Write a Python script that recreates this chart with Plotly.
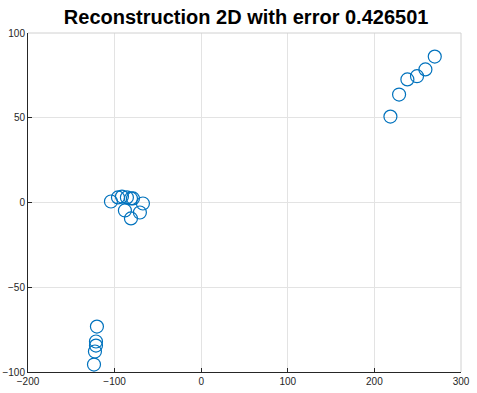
import plotly.graph_objects as go

# Reconstructed 2D points
x_vals = [-104.2, -96.1, -91.5, -85.8, -81.1, -78.8, -67.3, -70.8, -88.1, -81.1,
          -120.4, -121.5, -121.5, -122.7, -123.8,
          269.7, 258.9, 249.2, 238.1, 228.5, 218.5]
y_vals = [0.6, 3.0, 3.5, 3.0, 2.4, 2.4, -0.6, -5.9, -4.7, -9.4,
          -73.2, -82.0, -84.4, -87.9, -95.6,
          86.1, 78.5, 74.5, 72.6, 63.7, 50.7]

x_ticks = [-200, -100, 0, 100, 200, 300]
y_ticks = [-100, -50, 0, 50, 100]
title_text = "Reconstruction 2D with error 0.426501"

fig = go.Figure()
fig.add_trace(go.Scatter(
    x=x_vals, y=y_vals, mode="markers",
    marker=dict(symbol="circle-open", size=13, color="#0072BD",
                line=dict(width=1.2, color="#0072BD")),
    showlegend=False,
))

axis_common = dict(
    showgrid=True, gridcolor="#e3e3e3", gridwidth=1,
    zeroline=False, showline=True, linecolor="#262626", linewidth=1,
    ticks="inside", ticklen=4, tickcolor="#262626", automargin=False,
    tickfont=dict(family="Liberation Sans, Arial, sans-serif", size=10, color="#262626"),
)

fig.update_xaxes(range=[-200, 300], tickvals=x_ticks, **axis_common)
fig.update_yaxes(range=[-100, 100], tickvals=y_ticks, **axis_common)

# light box on top and right
fig.add_shape(type="line", xref="paper", yref="paper", x0=0, x1=1, y0=1, y1=1,
              line=dict(color="#d0d0d0", width=1))
fig.add_shape(type="line", xref="paper", yref="paper", x0=1, x1=1, y0=0, y1=1,
              line=dict(color="#d0d0d0", width=1))

fig.update_layout(
    width=477, height=393,
    margin=dict(l=28, r=16, t=33, b=21, autoexpand=False),
    paper_bgcolor="white", plot_bgcolor="white",
    title=dict(text="<b>" + title_text + "</b>", x=0.516, xanchor="center",
               xref="container", yref="container",
               y=0.957, yanchor="middle",
               font=dict(family="Liberation Sans, Arial, sans-serif", size=20, color="black")),
)

fig.write_html("out.html", config={"displayModeBar": False},
               post_script="document.body.style.margin='0';")
